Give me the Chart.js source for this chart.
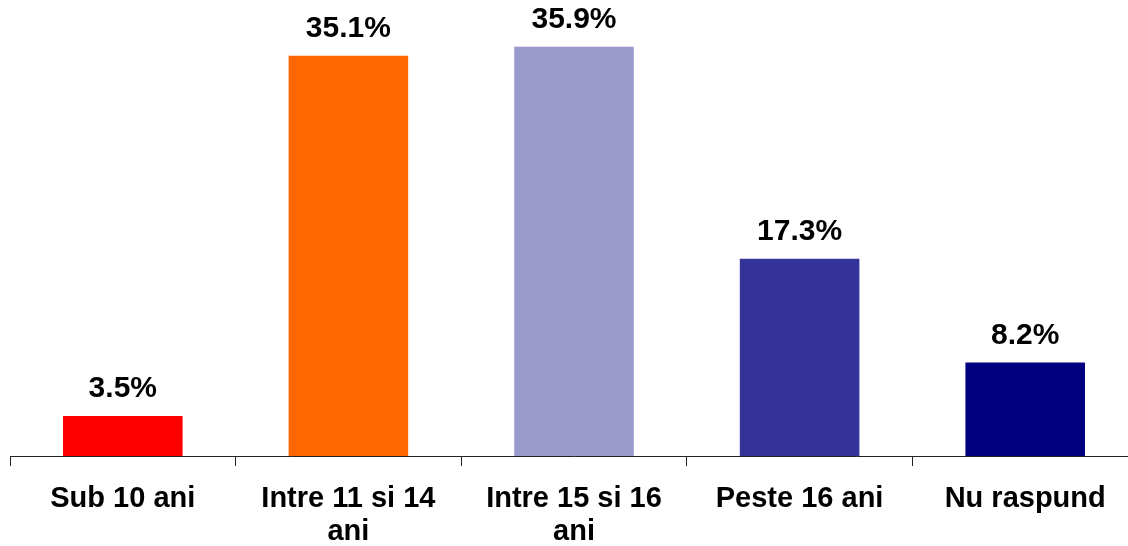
<!DOCTYPE html>
<html lang="ro">
<head>
  <meta charset="UTF-8">
  <title>Varsta</title>
  <script src="https://cdn.jsdelivr.net/npm/chart.js"></script>
  <style>
    html, body {
      margin: 0;
      padding: 0;
      background: #fff;
      overflow: hidden;
    }
    #wrap {
      width: 1140px;
      height: 546px;
    }
  </style>
</head>
<body>
  <div id="wrap"><canvas id="grafic"></canvas></div>

<script>
const categorii = ['Sub 10 ani', ['Intre 11 si 14', 'ani'], ['Intre 15 si 16', 'ani'], 'Peste 16 ani', 'Nu raspund'];
const procente = [3.5, 35.1, 35.9, 17.3, 8.2];
const culori = ['#ff0000', '#ff6600', '#9999cc', '#333399', '#000080'];

// etichete cu valoarea deasupra barelor
const eticheteValori = {
  id: 'eticheteValori',
  afterDatasetsDraw(chart) {
    const ctx = chart.ctx;
    const meta = chart.getDatasetMeta(0);
    ctx.save();
    ctx.font = 'bold 30px "Liberation Sans", Arial, sans-serif';
    ctx.fillStyle = '#000';
    ctx.textAlign = 'center';
    ctx.textBaseline = 'alphabetic';
    meta.data.forEach((bar, i) => {
      ctx.fillText(procente[i].toFixed(1) + '%', bar.x, bar.y - 19);
    });
    ctx.restore();
  }
};

new Chart(document.getElementById('grafic'), {
  type: 'bar',
  data: {
    labels: categorii,
    datasets: [{
      data: procente,
      backgroundColor: culori,
      borderWidth: 0,
      barPercentage: 0.53,
      categoryPercentage: 1
    }]
  },
  options: {
    responsive: true,
    maintainAspectRatio: false,
    animation: false,
    layout: { padding: { left: 10, right: 2, top: 0, bottom: 0 } },
    plugins: {
      legend: { display: false },
      tooltip: { enabled: false }
    },
    scales: {
      y: { display: false, min: 0, max: 40 },
      x: {
        afterFit(scale) { scale.height = 90; },
        border: { display: true, color: '#222', width: 1 },
        grid: {
          drawOnChartArea: false,
          drawTicks: true,
          tickLength: 10,
          color: '#222',
          offset: true
        },
        ticks: {
          color: '#000',
          padding: 16,
          maxRotation: 0,
          autoSkip: false,
          font: { family: '"Liberation Sans", Arial, sans-serif', size: 29, weight: 'bold', lineHeight: 1.14 }
        }
      }
    }
  },
  plugins: [eticheteValori]
});
</script>
</body>
</html>
